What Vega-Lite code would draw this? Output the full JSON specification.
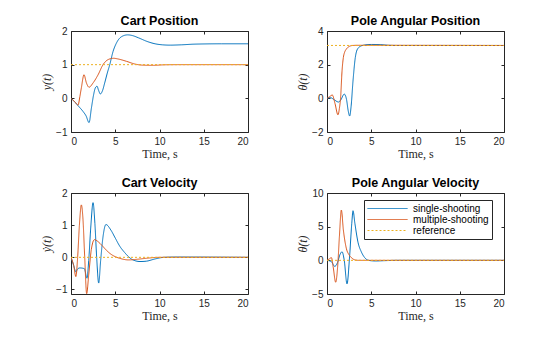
{
"$schema": "https://vega.github.io/schema/vega-lite/v6.json",
"background": "white",
"padding": {"left": 40, "top": 14, "right": 10, "bottom": 5},
"data": {"values": [
{"p":"pos","s":"single-shooting","t":0,"v":0},{"p":"pos","s":"single-shooting","t":0.4,"v":-0.1},{"p":"pos","s":"single-shooting","t":0.8,"v":-0.22},{"p":"pos","s":"single-shooting","t":1.36,"v":-0.39},{"p":"pos","s":"single-shooting","t":1.7,"v":-0.52},{"p":"pos","s":"single-shooting","t":2.04,"v":-0.72},{"p":"pos","s":"single-shooting","t":2.3,"v":-0.3},{"p":"pos","s":"single-shooting","t":2.55,"v":0.1},{"p":"pos","s":"single-shooting","t":2.75,"v":0.31},{"p":"pos","s":"single-shooting","t":2.94,"v":0.36},{"p":"pos","s":"single-shooting","t":3.1,"v":0.25},{"p":"pos","s":"single-shooting","t":3.32,"v":0.13},{"p":"pos","s":"single-shooting","t":3.55,"v":0.22},{"p":"pos","s":"single-shooting","t":3.81,"v":0.46},{"p":"pos","s":"single-shooting","t":4.1,"v":0.75},{"p":"pos","s":"single-shooting","t":4.38,"v":1.0},{"p":"pos","s":"single-shooting","t":4.75,"v":1.39},{"p":"pos","s":"single-shooting","t":5.13,"v":1.64},{"p":"pos","s":"single-shooting","t":5.7,"v":1.83},{"p":"pos","s":"single-shooting","t":6.4,"v":1.885},{"p":"pos","s":"single-shooting","t":7.0,"v":1.86},{"p":"pos","s":"single-shooting","t":7.6,"v":1.8},{"p":"pos","s":"single-shooting","t":8.7,"v":1.68},{"p":"pos","s":"single-shooting","t":9.5,"v":1.62},{"p":"pos","s":"single-shooting","t":10.3,"v":1.59},{"p":"pos","s":"single-shooting","t":11.2,"v":1.58},{"p":"pos","s":"single-shooting","t":12.5,"v":1.59},{"p":"pos","s":"single-shooting","t":14,"v":1.61},{"p":"pos","s":"single-shooting","t":17,"v":1.62},{"p":"pos","s":"single-shooting","t":20,"v":1.62},
{"p":"pos","s":"multiple-shooting","t":0,"v":0},{"p":"pos","s":"multiple-shooting","t":0.42,"v":-0.1},{"p":"pos","s":"multiple-shooting","t":0.8,"v":-0.2},{"p":"pos","s":"multiple-shooting","t":1.0,"v":0.05},{"p":"pos","s":"multiple-shooting","t":1.17,"v":0.31},{"p":"pos","s":"multiple-shooting","t":1.47,"v":0.7},{"p":"pos","s":"multiple-shooting","t":1.74,"v":0.46},{"p":"pos","s":"multiple-shooting","t":2.04,"v":0.33},{"p":"pos","s":"multiple-shooting","t":2.5,"v":0.46},{"p":"pos","s":"multiple-shooting","t":3.06,"v":0.7},{"p":"pos","s":"multiple-shooting","t":3.62,"v":1.0},{"p":"pos","s":"multiple-shooting","t":4.19,"v":1.15},{"p":"pos","s":"multiple-shooting","t":4.8,"v":1.19},{"p":"pos","s":"multiple-shooting","t":5.3,"v":1.17},{"p":"pos","s":"multiple-shooting","t":6.26,"v":1.1},{"p":"pos","s":"multiple-shooting","t":7.2,"v":1.02},{"p":"pos","s":"multiple-shooting","t":8.15,"v":0.985},{"p":"pos","s":"multiple-shooting","t":9.3,"v":0.98},{"p":"pos","s":"multiple-shooting","t":10.5,"v":0.995},{"p":"pos","s":"multiple-shooting","t":12,"v":1.0},{"p":"pos","s":"multiple-shooting","t":20,"v":1.0},
{"p":"pos","s":"reference","t":0,"v":1},{"p":"pos","s":"reference","t":20,"v":1},
{"p":"ang","s":"single-shooting","t":0,"v":0},{"p":"ang","s":"single-shooting","t":0.4,"v":0.04},{"p":"ang","s":"single-shooting","t":0.8,"v":-0.08},{"p":"ang","s":"single-shooting","t":1.3,"v":-0.22},{"p":"ang","s":"single-shooting","t":1.55,"v":-0.1},{"p":"ang","s":"single-shooting","t":1.95,"v":0.25},{"p":"ang","s":"single-shooting","t":2.2,"v":-0.05},{"p":"ang","s":"single-shooting","t":2.4,"v":-0.75},{"p":"ang","s":"single-shooting","t":2.56,"v":-1.05},{"p":"ang","s":"single-shooting","t":2.72,"v":-0.5},{"p":"ang","s":"single-shooting","t":2.94,"v":1.04},{"p":"ang","s":"single-shooting","t":3.2,"v":2.43},{"p":"ang","s":"single-shooting","t":3.5,"v":2.97},{"p":"ang","s":"single-shooting","t":4.0,"v":3.14},{"p":"ang","s":"single-shooting","t":5.0,"v":3.2},{"p":"ang","s":"single-shooting","t":6.0,"v":3.19},{"p":"ang","s":"single-shooting","t":7.0,"v":3.15},{"p":"ang","s":"single-shooting","t":8.0,"v":3.14},{"p":"ang","s":"single-shooting","t":20,"v":3.14},
{"p":"ang","s":"multiple-shooting","t":0,"v":0},{"p":"ang","s":"multiple-shooting","t":0.3,"v":0.1},{"p":"ang","s":"multiple-shooting","t":0.6,"v":0.2},{"p":"ang","s":"multiple-shooting","t":0.9,"v":-0.3},{"p":"ang","s":"multiple-shooting","t":1.24,"v":-0.98},{"p":"ang","s":"multiple-shooting","t":1.4,"v":-0.6},{"p":"ang","s":"multiple-shooting","t":1.54,"v":0.06},{"p":"ang","s":"multiple-shooting","t":1.7,"v":1.63},{"p":"ang","s":"multiple-shooting","t":1.85,"v":2.43},{"p":"ang","s":"multiple-shooting","t":2.0,"v":2.75},{"p":"ang","s":"multiple-shooting","t":2.18,"v":2.92},{"p":"ang","s":"multiple-shooting","t":2.5,"v":3.08},{"p":"ang","s":"multiple-shooting","t":2.9,"v":3.14},{"p":"ang","s":"multiple-shooting","t":3.5,"v":3.15},{"p":"ang","s":"multiple-shooting","t":20,"v":3.14},
{"p":"ang","s":"reference","t":0,"v":3.1416},{"p":"ang","s":"reference","t":20,"v":3.1416},
{"p":"vel","s":"single-shooting","t":0,"v":0},{"p":"vel","s":"single-shooting","t":0.3,"v":-0.25},{"p":"vel","s":"single-shooting","t":0.55,"v":-0.45},{"p":"vel","s":"single-shooting","t":0.75,"v":-0.36},{"p":"vel","s":"single-shooting","t":1.0,"v":-0.33},{"p":"vel","s":"single-shooting","t":1.5,"v":-0.35},{"p":"vel","s":"single-shooting","t":1.81,"v":-0.65},{"p":"vel","s":"single-shooting","t":2.0,"v":-0.1},{"p":"vel","s":"single-shooting","t":2.25,"v":1.0},{"p":"vel","s":"single-shooting","t":2.49,"v":1.7},{"p":"vel","s":"single-shooting","t":2.7,"v":1.05},{"p":"vel","s":"single-shooting","t":2.9,"v":0.0},{"p":"vel","s":"single-shooting","t":3.13,"v":-0.8},{"p":"vel","s":"single-shooting","t":3.35,"v":-0.1},{"p":"vel","s":"single-shooting","t":3.6,"v":0.6},{"p":"vel","s":"single-shooting","t":3.95,"v":1.02},{"p":"vel","s":"single-shooting","t":4.5,"v":0.85},{"p":"vel","s":"single-shooting","t":5.0,"v":0.6},{"p":"vel","s":"single-shooting","t":5.5,"v":0.35},{"p":"vel","s":"single-shooting","t":6.06,"v":0.15},{"p":"vel","s":"single-shooting","t":6.5,"v":0.02},{"p":"vel","s":"single-shooting","t":7.0,"v":-0.08},{"p":"vel","s":"single-shooting","t":7.8,"v":-0.13},{"p":"vel","s":"single-shooting","t":8.5,"v":-0.12},{"p":"vel","s":"single-shooting","t":9.5,"v":-0.05},{"p":"vel","s":"single-shooting","t":10.5,"v":0},{"p":"vel","s":"single-shooting","t":12,"v":0.01},{"p":"vel","s":"single-shooting","t":20,"v":0},
{"p":"vel","s":"multiple-shooting","t":0,"v":0},{"p":"vel","s":"multiple-shooting","t":0.3,"v":-0.25},{"p":"vel","s":"multiple-shooting","t":0.55,"v":-0.6},{"p":"vel","s":"multiple-shooting","t":0.75,"v":0.0},{"p":"vel","s":"multiple-shooting","t":0.95,"v":1.0},{"p":"vel","s":"multiple-shooting","t":1.17,"v":1.63},{"p":"vel","s":"multiple-shooting","t":1.35,"v":1.2},{"p":"vel","s":"multiple-shooting","t":1.55,"v":0.0},{"p":"vel","s":"multiple-shooting","t":1.77,"v":-1.13},{"p":"vel","s":"multiple-shooting","t":2.0,"v":-0.55},{"p":"vel","s":"multiple-shooting","t":2.3,"v":0.25},{"p":"vel","s":"multiple-shooting","t":2.65,"v":0.55},{"p":"vel","s":"multiple-shooting","t":3.0,"v":0.5},{"p":"vel","s":"multiple-shooting","t":3.5,"v":0.37},{"p":"vel","s":"multiple-shooting","t":4.0,"v":0.22},{"p":"vel","s":"multiple-shooting","t":4.5,"v":0.1},{"p":"vel","s":"multiple-shooting","t":5.0,"v":0.02},{"p":"vel","s":"multiple-shooting","t":5.5,"v":-0.03},{"p":"vel","s":"multiple-shooting","t":6.5,"v":-0.08},{"p":"vel","s":"multiple-shooting","t":7.5,"v":-0.06},{"p":"vel","s":"multiple-shooting","t":8.5,"v":-0.03},{"p":"vel","s":"multiple-shooting","t":10,"v":0},{"p":"vel","s":"multiple-shooting","t":20,"v":0},
{"p":"vel","s":"reference","t":0,"v":0},{"p":"vel","s":"reference","t":20,"v":0},
{"p":"angvel","s":"single-shooting","t":0,"v":0},{"p":"angvel","s":"single-shooting","t":0.5,"v":-0.2},{"p":"angvel","s":"single-shooting","t":0.87,"v":-0.9},{"p":"angvel","s":"single-shooting","t":1.2,"v":-0.3},{"p":"angvel","s":"single-shooting","t":1.45,"v":0.8},{"p":"angvel","s":"single-shooting","t":1.7,"v":1.27},{"p":"angvel","s":"single-shooting","t":1.95,"v":0},{"p":"angvel","s":"single-shooting","t":2.26,"v":-3.5},{"p":"angvel","s":"single-shooting","t":2.55,"v":0.5},{"p":"angvel","s":"single-shooting","t":2.8,"v":5.5},{"p":"angvel","s":"single-shooting","t":2.94,"v":7.37},{"p":"angvel","s":"single-shooting","t":3.15,"v":5.5},{"p":"angvel","s":"single-shooting","t":3.5,"v":2.7},{"p":"angvel","s":"single-shooting","t":3.9,"v":1.2},{"p":"angvel","s":"single-shooting","t":4.26,"v":0.4},{"p":"angvel","s":"single-shooting","t":4.7,"v":0.0},{"p":"angvel","s":"single-shooting","t":5.5,"v":-0.1},{"p":"angvel","s":"single-shooting","t":6.5,"v":-0.05},{"p":"angvel","s":"single-shooting","t":8,"v":0},{"p":"angvel","s":"single-shooting","t":20,"v":0},
{"p":"angvel","s":"multiple-shooting","t":0,"v":0},{"p":"angvel","s":"multiple-shooting","t":0.25,"v":0.2},{"p":"angvel","s":"multiple-shooting","t":0.5,"v":0.4},{"p":"angvel","s":"multiple-shooting","t":0.7,"v":-1.0},{"p":"angvel","s":"multiple-shooting","t":0.98,"v":-3.25},{"p":"angvel","s":"multiple-shooting","t":1.2,"v":-1.0},{"p":"angvel","s":"multiple-shooting","t":1.4,"v":3.5},{"p":"angvel","s":"multiple-shooting","t":1.62,"v":7.47},{"p":"angvel","s":"multiple-shooting","t":1.85,"v":4.5},{"p":"angvel","s":"multiple-shooting","t":2.18,"v":1.8},{"p":"angvel","s":"multiple-shooting","t":2.5,"v":0.8},{"p":"angvel","s":"multiple-shooting","t":2.75,"v":0.4},{"p":"angvel","s":"multiple-shooting","t":3.2,"v":0.05},{"p":"angvel","s":"multiple-shooting","t":3.6,"v":0},{"p":"angvel","s":"multiple-shooting","t":20,"v":0},
{"p":"angvel","s":"reference","t":0,"v":0},{"p":"angvel","s":"reference","t":20,"v":0}
]},
"columns": 2,
"spacing": {"row": 61, "column": 79},
"bounds": "flush",
"resolve": {"scale": {"color": "independent", "strokeDash": "independent"}},
"concat": [
{"title": "Cart Position", "width": 177, "height": 101,
 "transform": [{"filter": "datum.p == 'pos'"}],
 "layer": [
  {"encoding": {
    "x": {"field": "t", "type": "quantitative", "scale": {"domain": [0, 20], "nice": false}, "axis": {"values": [0, 5, 10, 15, 20], "title": "Time, s"}},
    "y": {"field": "v", "type": "quantitative", "scale": {"domain": [-1, 2], "nice": false, "zero": false}, "axis": {"values": [-1, 0, 1, 2], "title": "y(t)"}},
    "color": {"field": "s", "type": "nominal", "scale": {"domain": ["single-shooting", "multiple-shooting", "reference"], "range": ["#0072BD", "#D95319", "#EDB120"]}, "legend": null},
    "strokeDash": {"field": "s", "type": "nominal", "scale": {"domain": ["single-shooting", "multiple-shooting", "reference"], "range": [[1, 0], [1, 0], [2, 2]]}, "legend": null}},
   "layer": [
    {"transform": [{"filter": "datum.s == 'single-shooting'"}], "mark": {"type": "line", "interpolate": "monotone", "strokeWidth": 1, "clip": true}},
    {"transform": [{"filter": "datum.s == 'multiple-shooting'"}], "mark": {"type": "line", "interpolate": "monotone", "strokeWidth": 1, "clip": true}},
    {"transform": [{"filter": "datum.s == 'reference'"}], "mark": {"type": "line", "strokeWidth": 1, "clip": true}}
   ]},
  {"mark": {"type": "point", "opacity": 0},
   "encoding": {
    "x": {"field": "t", "type": "quantitative", "scale": {"domain": [0, 20], "nice": false}, "axis": {"orient": "top", "labels": false, "title": null, "values": [0, 5, 10, 15, 20]}},
    "y": {"field": "v", "type": "quantitative", "scale": {"domain": [-1, 2], "nice": false, "zero": false}, "axis": {"orient": "right", "labels": false, "title": null, "values": [-1, 0, 1, 2]}}}}
 ],
 "resolve": {"axis": {"x": "independent", "y": "independent"}}},
{"title": "Pole Angular Position", "width": 177, "height": 101,
 "transform": [{"filter": "datum.p == 'ang'"}],
 "layer": [
  {"encoding": {
    "x": {"field": "t", "type": "quantitative", "scale": {"domain": [0, 20], "nice": false}, "axis": {"values": [0, 5, 10, 15, 20], "title": "Time, s"}},
    "y": {"field": "v", "type": "quantitative", "scale": {"domain": [-2, 4], "nice": false, "zero": false}, "axis": {"values": [-2, 0, 2, 4], "title": "θ(t)"}},
    "color": {"field": "s", "type": "nominal", "scale": {"domain": ["single-shooting", "multiple-shooting", "reference"], "range": ["#0072BD", "#D95319", "#EDB120"]}, "legend": null},
    "strokeDash": {"field": "s", "type": "nominal", "scale": {"domain": ["single-shooting", "multiple-shooting", "reference"], "range": [[1, 0], [1, 0], [2, 2]]}, "legend": null}},
   "layer": [
    {"transform": [{"filter": "datum.s == 'single-shooting'"}], "mark": {"type": "line", "interpolate": "monotone", "strokeWidth": 1, "clip": true}},
    {"transform": [{"filter": "datum.s == 'multiple-shooting'"}], "mark": {"type": "line", "interpolate": "monotone", "strokeWidth": 1, "clip": true}},
    {"transform": [{"filter": "datum.s == 'reference'"}], "mark": {"type": "line", "strokeWidth": 1, "clip": true}}
   ]},
  {"mark": {"type": "point", "opacity": 0},
   "encoding": {
    "x": {"field": "t", "type": "quantitative", "scale": {"domain": [0, 20], "nice": false}, "axis": {"orient": "top", "labels": false, "title": null, "values": [0, 5, 10, 15, 20]}},
    "y": {"field": "v", "type": "quantitative", "scale": {"domain": [-2, 4], "nice": false, "zero": false}, "axis": {"orient": "right", "labels": false, "title": null, "values": [-2, 0, 2, 4]}}}}
 ],
 "resolve": {"axis": {"x": "independent", "y": "independent"}}},
{"title": "Cart Velocity", "width": 177, "height": 101,
 "transform": [{"filter": "datum.p == 'vel'"}],
 "layer": [
  {"encoding": {
    "x": {"field": "t", "type": "quantitative", "scale": {"domain": [0, 20], "nice": false}, "axis": {"values": [0, 5, 10, 15, 20], "title": "Time, s"}},
    "y": {"field": "v", "type": "quantitative", "scale": {"domain": [-1.14, 2], "nice": false, "zero": false}, "axis": {"values": [-1, 0, 1, 2], "title": "ẏ(t)"}},
    "color": {"field": "s", "type": "nominal", "scale": {"domain": ["single-shooting", "multiple-shooting", "reference"], "range": ["#0072BD", "#D95319", "#EDB120"]}, "legend": null},
    "strokeDash": {"field": "s", "type": "nominal", "scale": {"domain": ["single-shooting", "multiple-shooting", "reference"], "range": [[1, 0], [1, 0], [2, 2]]}, "legend": null}},
   "layer": [
    {"transform": [{"filter": "datum.s == 'single-shooting'"}], "mark": {"type": "line", "interpolate": "monotone", "strokeWidth": 1, "clip": true}},
    {"transform": [{"filter": "datum.s == 'multiple-shooting'"}], "mark": {"type": "line", "interpolate": "monotone", "strokeWidth": 1, "clip": true}},
    {"transform": [{"filter": "datum.s == 'reference'"}], "mark": {"type": "line", "strokeWidth": 1, "clip": true}}
   ]},
  {"mark": {"type": "point", "opacity": 0},
   "encoding": {
    "x": {"field": "t", "type": "quantitative", "scale": {"domain": [0, 20], "nice": false}, "axis": {"orient": "top", "labels": false, "title": null, "values": [0, 5, 10, 15, 20]}},
    "y": {"field": "v", "type": "quantitative", "scale": {"domain": [-1.14, 2], "nice": false, "zero": false}, "axis": {"orient": "right", "labels": false, "title": null, "values": [-1, 0, 1, 2]}}}}
 ],
 "resolve": {"axis": {"x": "independent", "y": "independent"}}},
{"title": "Pole Angular Velocity", "width": 177, "height": 101,
 "transform": [{"filter": "datum.p == 'angvel'"}],
 "layer": [
  {"encoding": {
    "x": {"field": "t", "type": "quantitative", "scale": {"domain": [0, 20], "nice": false}, "axis": {"values": [0, 5, 10, 15, 20], "title": "Time, s"}},
    "y": {"field": "v", "type": "quantitative", "scale": {"domain": [-5, 10], "nice": false, "zero": false}, "axis": {"values": [-5, 0, 5, 10], "title": "θ̇(t)"}},
    "color": {"field": "s", "type": "nominal", "scale": {"domain": ["single-shooting", "multiple-shooting", "reference"], "range": ["#0072BD", "#D95319", "#EDB120"]},
      "legend": {"orient": "none", "legendX": 37, "legendY": 7, "title": null, "symbolType": "stroke", "symbolSize": 1600, "symbolStrokeWidth": 1, "clipHeight": 11, "rowPadding": 0, "padding": 3, "labelOffset": 5, "labelFont": "Liberation Sans", "labelFontSize": 10, "labelColor": "#000000", "strokeColor": "#262626", "fillColor": "white", "cornerRadius": 0}},
    "strokeDash": {"field": "s", "type": "nominal", "scale": {"domain": ["single-shooting", "multiple-shooting", "reference"], "range": [[1, 0], [1, 0], [2, 2]]},
      "legend": {"orient": "none", "legendX": 37, "legendY": 7, "title": null, "symbolType": "stroke", "symbolSize": 1600, "symbolStrokeWidth": 1, "clipHeight": 11, "rowPadding": 0, "padding": 3, "labelOffset": 5, "labelFont": "Liberation Sans", "labelFontSize": 10, "labelColor": "#000000", "strokeColor": "#262626", "fillColor": "white", "cornerRadius": 0}}},
   "layer": [
    {"transform": [{"filter": "datum.s == 'single-shooting'"}], "mark": {"type": "line", "interpolate": "monotone", "strokeWidth": 1, "clip": true}},
    {"transform": [{"filter": "datum.s == 'multiple-shooting'"}], "mark": {"type": "line", "interpolate": "monotone", "strokeWidth": 1, "clip": true}},
    {"transform": [{"filter": "datum.s == 'reference'"}], "mark": {"type": "line", "strokeWidth": 1, "clip": true}}
   ]},
  {"mark": {"type": "point", "opacity": 0},
   "encoding": {
    "x": {"field": "t", "type": "quantitative", "scale": {"domain": [0, 20], "nice": false}, "axis": {"orient": "top", "labels": false, "title": null, "values": [0, 5, 10, 15, 20]}},
    "y": {"field": "v", "type": "quantitative", "scale": {"domain": [-5, 10], "nice": false, "zero": false}, "axis": {"orient": "right", "labels": false, "title": null, "values": [-5, 0, 5, 10]}}}}
 ],
 "resolve": {"axis": {"x": "independent", "y": "independent"}}}
],
"config": {
  "view": {"stroke": "#262626", "strokeWidth": 1},
  "axis": {"grid": false, "domain": false, "ticks": true, "tickSize": -3, "tickColor": "#262626", "tickWidth": 1,
           "labelFont": "Liberation Sans", "labelFontSize": 10, "labelColor": "#262626", "labelPadding": 7,
           "titleFont": "Liberation Serif", "titleFontSize": 12, "titleFontWeight": "normal", "titleColor": "#262626", "titlePadding": 2,
           "minExtent": 0},
  "axisY": {"titleFontStyle": "italic"},
  "title": {"font": "Liberation Sans", "fontSize": 12.5, "fontWeight": "bold", "color": "#000000", "offset": -1, "anchor": "middle"}
}
}
